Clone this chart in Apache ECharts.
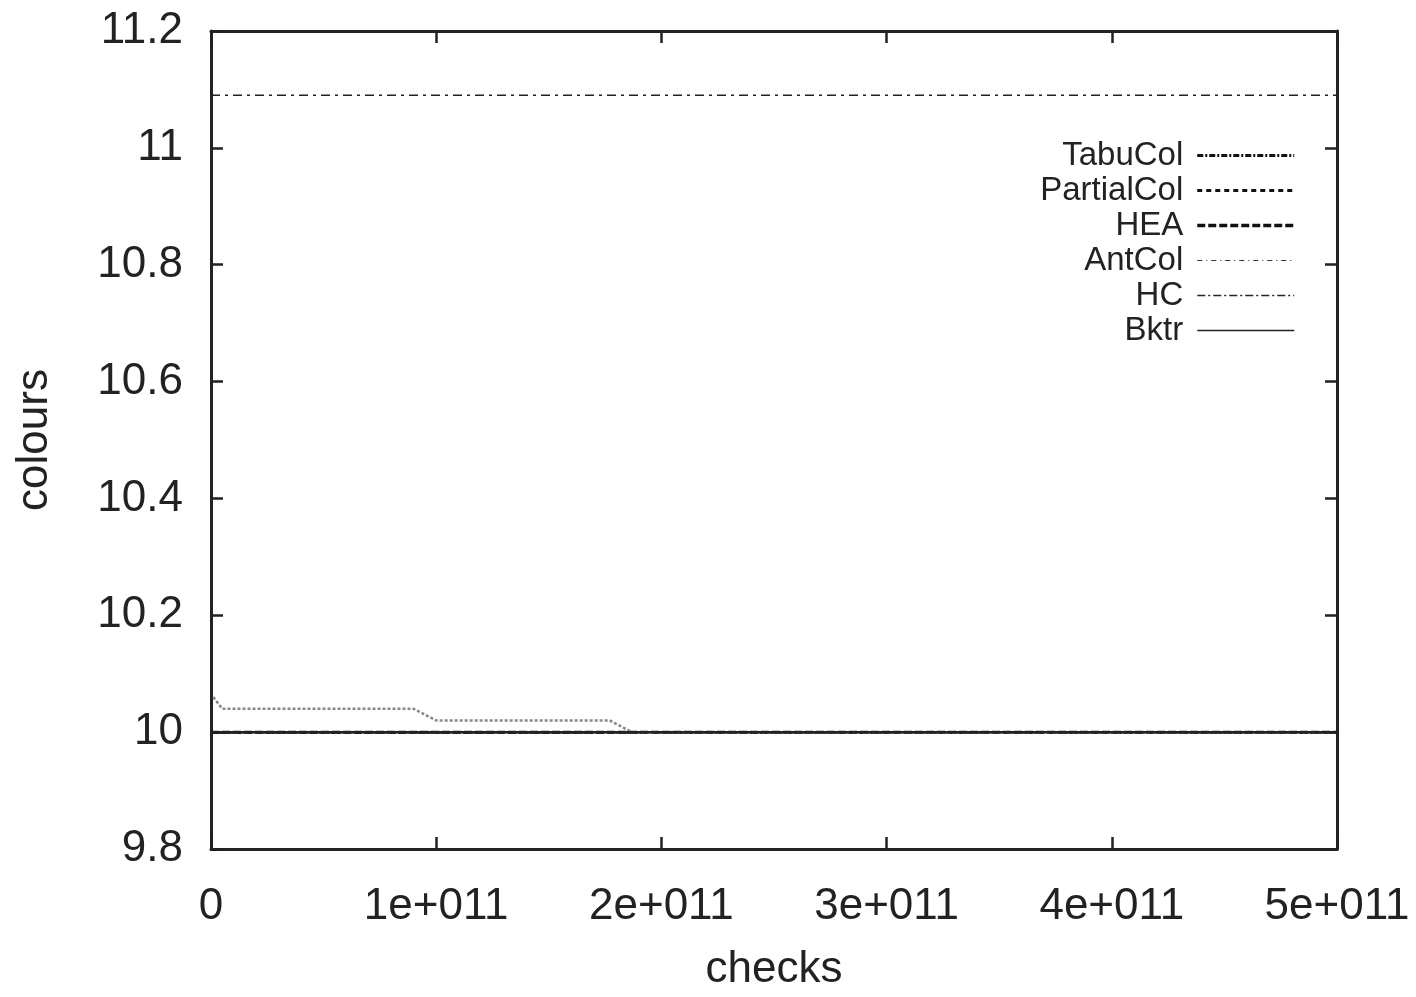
<!DOCTYPE html>
<html>
<head>
<meta charset="utf-8">
<title>colours vs checks</title>
<script src="https://cdn.jsdelivr.net/npm/echarts@6/dist/echarts.min.js"></script>
<style>
  html, body { margin: 0; padding: 0; background: #fff; overflow: hidden; }
  #chart { width: 1416px; height: 997px; }
</style>
</head>
<body>
<div id="chart"></div>
<script>
// x: checks, y: colours
const seriesNames = ['TabuCol', 'PartialCol', 'HEA', 'AntCol', 'HC', 'Bktr']
const xTicks = [0, 1e11, 2e11, 3e11, 4e11, 5e11]

const tabuColX = [0, 5e11]
const tabuColY = [10, 10]
const partialColX = [0, 5e11]
const partialColY = [10, 10]
const heaX = [0, 5e11]
const heaY = [10, 10]
const antColX = [0.01e11, 0.05e11, 0.9e11, 1.0e11, 1.77e11, 1.87e11, 5e11]
const antColY = [10.06, 10.04, 10.04, 10.02, 10.02, 10.0, 10.0]
const hcX = [0, 5e11]
const hcY = [11.09, 11.09]
const bktrX = [0, 5e11]
const bktrY = [10, 10]

const pairs = (xs, ys) => xs.map((x, i) => [x, ys[i]])

const ink = '#222'
const font = '"Liberation Sans", Arial, sans-serif'

const chart = echarts.init(document.getElementById('chart'))

function lineSeries(name, xs, ys, style) {
  return {
    name: name,
    type: 'line',
    data: pairs(xs, ys),
    symbol: 'none',
    xAxisIndex: 0,
    yAxisIndex: 0,
    lineStyle: style,
    itemStyle: { color: style.color },
    animation: false
  }
}

const axisBase = {
  axisLine: { show: true, onZero: false, lineStyle: { color: ink, width: 3 } },
  axisTick: { show: true, inside: true, length: 12, lineStyle: { color: ink, width: 2.5 } },
  splitLine: { show: false }
}

// legend samples: hide the dot, keep the line
const legendItem = (name, lineStyle) => ({ name: name, lineStyle: lineStyle, itemStyle: { opacity: 0 } })

const option = {
  backgroundColor: '#fff',
  textStyle: { fontFamily: font },
  grid: { left: 211, right: 79, top: 31, bottom: 140 },
  legend: {
    orient: 'vertical',
    right: 115,
    top: 134,
    align: 'right',
    itemWidth: 97,
    itemHeight: 12,
    itemGap: 2,
    textStyle: { fontFamily: font, fontSize: 33, color: ink, padding: [0, 9, 0, 0] },
    data: [
      legendItem('TabuCol', { color: '#111', width: 3, type: [6, 2, 2, 2] }),
      legendItem('PartialCol', { color: '#111', width: 3, type: [5, 4] }),
      legendItem('HEA', { color: '#111', width: 3.5, type: [8, 3] }),
      legendItem('AntCol', { color: '#333', width: 1.2, type: [5, 4, 1, 4] }),
      legendItem('HC', { color: '#222', width: 1.5, type: [8, 3, 2, 3] }),
      legendItem('Bktr', { color: '#222', width: 1.5, type: 'solid' })
    ]
  },
  xAxis: [
    Object.assign({}, axisBase, {
      type: 'value',
      position: 'bottom',
      min: 0,
      max: 5e11,
      interval: 1e11,
      name: 'checks',
      nameLocation: 'middle',
      nameGap: 99,
      nameTextStyle: { fontFamily: font, fontSize: 44, color: ink },
      axisLabel: {
        margin: 36,
        fontFamily: font,
        fontSize: 44,
        color: ink,
        formatter: v => (v === 0 ? '0' : (v / 1e11) + 'e+011')
      }
    }),
    Object.assign({}, axisBase, {
      type: 'value',
      position: 'top',
      min: 0,
      max: 5e11,
      interval: 1e11,
      axisLabel: { show: false }
    })
  ],
  yAxis: [
    Object.assign({}, axisBase, {
      type: 'value',
      position: 'left',
      min: 9.8,
      max: 11.2,
      interval: 0.2,
      name: 'colours',
      nameLocation: 'middle',
      nameRotate: 90,
      nameGap: 154,
      nameTextStyle: { fontFamily: font, fontSize: 44, color: ink },
      axisLabel: {
        margin: 28,
        fontFamily: font,
        fontSize: 44,
        color: ink,
        formatter: v => String(Math.round(v * 10) / 10)
      }
    }),
    Object.assign({}, axisBase, {
      type: 'value',
      position: 'right',
      min: 9.8,
      max: 11.2,
      interval: 0.2,
      axisLabel: { show: false }
    })
  ],
  series: [
    lineSeries('TabuCol', tabuColX, tabuColY, { color: '#111', width: 2.5, type: [6, 2, 2, 2] }),
    lineSeries('PartialCol', partialColX, partialColY, { color: '#111', width: 2.5, type: [5, 4] }),
    lineSeries('HEA', heaX, heaY, { color: '#111', width: 3, type: [8, 3] }),
    lineSeries('AntCol', antColX, antColY, { color: '#888', width: 2.5, type: [3, 2] }),
    lineSeries('HC', hcX, hcY, { color: '#222', width: 1.5, type: [9, 5, 3, 5] }),
    lineSeries('Bktr', bktrX, bktrY, { color: '#222', width: 2.5, type: 'solid' })
  ]
}

chart.setOption(option)
</script>
</body>
</html>
